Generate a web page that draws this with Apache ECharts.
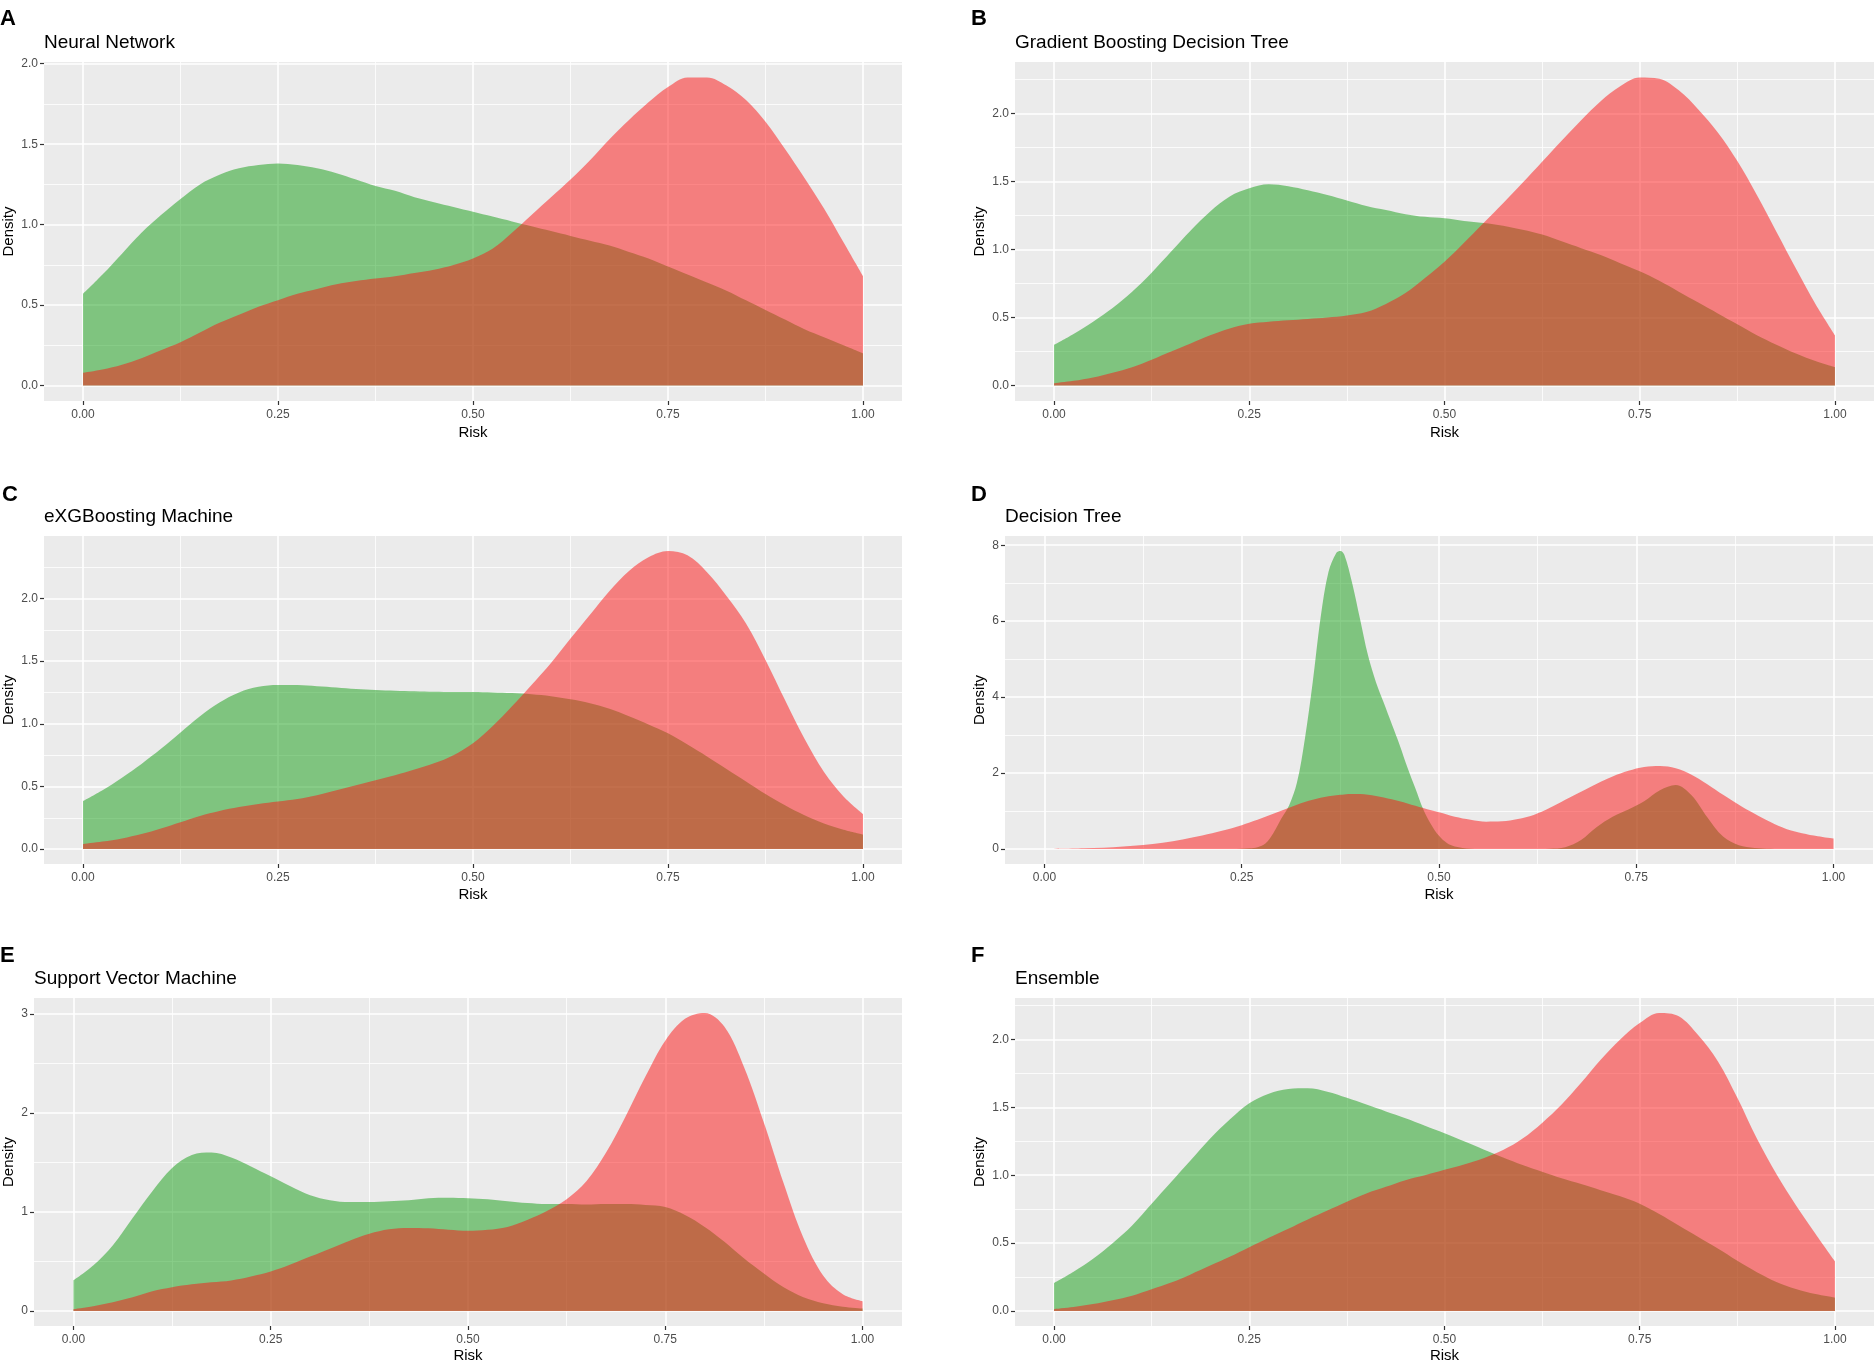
<!DOCTYPE html>
<html>
<head>
<meta charset="utf-8">
<title>Risk density by model</title>
<script src="https://cdn.jsdelivr.net/npm/echarts@6/dist/echarts.min.js"></script>
<style>
  html, body { margin: 0; padding: 0; background: #fff; }
  #box { width: 1874px; height: 1361px; }
</style>
</head>
<body>
<div id="box"></div>
<script>
// x grid shared by panels A, B, C, E, F
var risk = [0, 0.025, 0.05, 0.075, 0.1, 0.125, 0.15, 0.175, 0.2, 0.225, 0.25, 0.275, 0.3, 0.325, 0.35, 0.375, 0.4, 0.425, 0.45, 0.475, 0.5,
  0.525, 0.55, 0.575, 0.6, 0.625, 0.65, 0.675, 0.7, 0.725, 0.75, 0.775, 0.8, 0.825, 0.85, 0.875, 0.9, 0.925, 0.95, 0.975, 1]

// finer grid for the decision tree panel (sharp peak)
var riskDT = [0, 0.05, 0.1, 0.15, 0.2, 0.225, 0.25, 0.26, 0.27, 0.28, 0.29, 0.3, 0.31, 0.32, 0.33, 0.34, 0.35, 0.36, 0.37, 0.375,
  0.38, 0.39, 0.4, 0.41, 0.42, 0.43, 0.44, 0.45, 0.46, 0.47, 0.48, 0.49, 0.5, 0.51, 0.52, 0.54, 0.56, 0.58, 0.6, 0.62, 0.64,
  0.66, 0.68, 0.7, 0.72, 0.74, 0.76, 0.78, 0.8, 0.82, 0.84, 0.86, 0.88, 0.9, 0.92, 0.94, 0.96, 0.98, 1]

var nnGreen = [0.57, 0.69, 0.82, 0.95, 1.06, 1.16, 1.25, 1.31, 1.35, 1.37, 1.38, 1.37, 1.35, 1.32, 1.28, 1.24, 1.21, 1.17, 1.14, 1.11, 1.08,
  1.05, 1.02, 0.99, 0.96, 0.93, 0.90, 0.87, 0.83, 0.79, 0.74, 0.69, 0.64, 0.59, 0.53, 0.47, 0.41, 0.35, 0.30, 0.25, 0.20]
var nnRed = [0.08, 0.10, 0.13, 0.17, 0.22, 0.27, 0.33, 0.39, 0.44, 0.49, 0.53, 0.57, 0.60, 0.63, 0.65, 0.665, 0.68, 0.70, 0.72, 0.75, 0.79,
  0.85, 0.95, 1.06, 1.17, 1.28, 1.40, 1.53, 1.65, 1.76, 1.855, 1.915, 1.915, 1.865, 1.775, 1.64, 1.47, 1.29, 1.10, 0.89, 0.68]

var gbdtGreen = [0.30, 0.38, 0.47, 0.57, 0.69, 0.83, 0.985, 1.14, 1.28, 1.39, 1.45, 1.48, 1.465, 1.435, 1.40, 1.36, 1.32, 1.29, 1.26, 1.24, 1.23,
  1.21, 1.195, 1.175, 1.145, 1.11, 1.06, 1.01, 0.96, 0.90, 0.84, 0.77, 0.69, 0.61, 0.53, 0.45, 0.37, 0.30, 0.235, 0.18, 0.135]
var gbdtRed = [0.017, 0.035, 0.06, 0.095, 0.135, 0.19, 0.25, 0.31, 0.37, 0.42, 0.455, 0.47, 0.48, 0.49, 0.50, 0.515, 0.54, 0.60, 0.68, 0.79, 0.91,
  1.05, 1.195, 1.34, 1.49, 1.645, 1.80, 1.95, 2.09, 2.20, 2.265, 2.255, 2.17, 2.03, 1.86, 1.65, 1.40, 1.13, 0.86, 0.60, 0.37]

var xgbGreen = [0.384, 0.47, 0.57, 0.68, 0.80, 0.93, 1.06, 1.17, 1.25, 1.295, 1.31, 1.31, 1.30, 1.29, 1.277, 1.27, 1.264, 1.26, 1.256, 1.254, 1.253,
  1.25, 1.245, 1.235, 1.22, 1.195, 1.165, 1.12, 1.06, 0.995, 0.925, 0.835, 0.74, 0.64, 0.54, 0.44, 0.35, 0.27, 0.205, 0.155, 0.117]
var xgbRed = [0.04, 0.06, 0.085, 0.12, 0.165, 0.215, 0.265, 0.305, 0.335, 0.36, 0.38, 0.40, 0.43, 0.47, 0.51, 0.55, 0.59, 0.635, 0.685, 0.75, 0.845,
  0.98, 1.14, 1.31, 1.485, 1.68, 1.87, 2.06, 2.22, 2.33, 2.38, 2.345, 2.21, 2.02, 1.80, 1.51, 1.19, 0.88, 0.615, 0.42, 0.28]

var dtGreen = [0, 0, 0, 0, 0, 0, 0.01, 0.02, 0.05, 0.15, 0.42, 0.8, 1.15, 1.75, 2.9, 4.4, 6.1, 7.3, 7.8, 7.85,
  7.75, 7.0, 6.05, 5.1, 4.4, 3.85, 3.3, 2.75, 2.15, 1.6, 1.05, 0.65, 0.35, 0.16, 0.07, 0.01, 0, 0, 0, 0, 0.01,
  0.05, 0.24, 0.58, 0.85, 1.04, 1.26, 1.55, 1.69, 1.42, 0.84, 0.33, 0.1, 0.03, 0.01, 0, 0, 0, 0]
var dtRed = [0, 0.02, 0.07, 0.17, 0.36, 0.48, 0.63, 0.70, 0.77, 0.85, 0.93, 1.01, 1.09, 1.17, 1.24, 1.30, 1.35, 1.39, 1.42, 1.43,
  1.44, 1.45, 1.45, 1.43, 1.40, 1.36, 1.31, 1.26, 1.20, 1.14, 1.08, 1.02, 0.97, 0.91, 0.85, 0.77, 0.72, 0.73, 0.79, 0.90, 1.08,
  1.30, 1.51, 1.72, 1.91, 2.06, 2.16, 2.19, 2.13, 1.96, 1.71, 1.43, 1.17, 0.93, 0.71, 0.53, 0.42, 0.34, 0.28]

var svmGreen = [0.31, 0.46, 0.665, 0.94, 1.21, 1.445, 1.575, 1.60, 1.55, 1.46, 1.36, 1.26, 1.17, 1.12, 1.10, 1.10, 1.11, 1.12, 1.14, 1.145, 1.14,
  1.13, 1.11, 1.09, 1.08, 1.08, 1.075, 1.08, 1.08, 1.07, 1.05, 0.97, 0.85, 0.70, 0.53, 0.38, 0.24, 0.14, 0.08, 0.045, 0.027]
var svmRed = [0.02, 0.05, 0.09, 0.14, 0.20, 0.24, 0.27, 0.29, 0.31, 0.35, 0.40, 0.47, 0.55, 0.63, 0.71, 0.78, 0.825, 0.84, 0.835, 0.82, 0.81,
  0.82, 0.85, 0.92, 1.01, 1.13, 1.31, 1.60, 1.97, 2.37, 2.73, 2.95, 3.01, 2.87, 2.46, 1.90, 1.29, 0.74, 0.36, 0.17, 0.10]

var ensGreen = [0.207, 0.29, 0.385, 0.50, 0.63, 0.79, 0.95, 1.11, 1.27, 1.41, 1.53, 1.60, 1.635, 1.64, 1.615, 1.57, 1.52, 1.47, 1.42, 1.365, 1.31,
  1.25, 1.19, 1.13, 1.075, 1.025, 0.977, 0.935, 0.89, 0.845, 0.79, 0.715, 0.63, 0.545, 0.46, 0.37, 0.286, 0.215, 0.163, 0.125, 0.099]
var ensRed = [0.015, 0.03, 0.052, 0.08, 0.113, 0.16, 0.21, 0.27, 0.335, 0.40, 0.47, 0.54, 0.607, 0.675, 0.74, 0.805, 0.866, 0.915, 0.964, 1.00, 1.04,
  1.08, 1.125, 1.185, 1.27, 1.385, 1.52, 1.68, 1.85, 2.00, 2.12, 2.195, 2.17, 2.03, 1.84, 1.57, 1.27, 1.01, 0.78, 0.57, 0.367]

// tick positions
var xTicks = [0, 0.25, 0.5, 0.75, 1]
var xMinor = [0.125, 0.375, 0.625, 0.875]
var yTicksHalf = [0, 0.5, 1, 1.5, 2, 2.5]
var yMinorHalf = [0.25, 0.75, 1.25, 1.75, 2.25]
var yTicksDT = [0, 2, 4, 6, 8]
var yMinorDT = [1, 3, 5, 7]
var yTicksSVM = [0, 1, 2, 3]
var yMinorSVM = [0.5, 1.5, 2.5]

var font = '"Liberation Sans", Arial, sans-serif'
var greenFill = 'rgba(20, 158, 20, 0.5)'
var redFill = 'rgba(254, 18, 18, 0.5)'

// panel layout (pixels)
var panels = [
  { letter: 'A', title: 'Neural Network', xs: risk, green: nnGreen, red: nnRed,
    left: 44, top: 62, width: 858, height: 339, yMajor: yTicksHalf, yMinor: yMinorHalf, digits: 1,
    nameX: 8, riskGap: 24.5, letterX: 0, letterY: 8 },
  { letter: 'B', title: 'Gradient Boosting Decision Tree', xs: risk, green: gbdtGreen, red: gbdtRed,
    left: 1015, top: 62, width: 859, height: 339, yMajor: yTicksHalf, yMinor: yMinorHalf, digits: 1,
    nameX: 979, riskGap: 24.5, letterX: 971, letterY: 8 },
  { letter: 'C', title: 'eXGBoosting Machine', xs: risk, green: xgbGreen, red: xgbRed,
    left: 44, top: 536, width: 858, height: 328, yMajor: yTicksHalf, yMinor: yMinorHalf, digits: 1,
    nameX: 8, riskGap: 23.5, letterX: 2, letterY: 484 },
  { letter: 'D', title: 'Decision Tree', xs: riskDT, green: dtGreen, red: dtRed,
    left: 1005, top: 536, width: 868, height: 328, yMajor: yTicksDT, yMinor: yMinorDT, digits: 0,
    nameX: 979, riskGap: 23.5, letterX: 971, letterY: 484 },
  { letter: 'E', title: 'Support Vector Machine', xs: risk, green: svmGreen, red: svmRed,
    left: 34, top: 998, width: 868, height: 328, yMajor: yTicksSVM, yMinor: yMinorSVM, digits: 0,
    nameX: 8, riskGap: 22, letterX: 0, letterY: 945 },
  { letter: 'F', title: 'Ensemble', xs: risk, green: ensGreen, red: ensRed,
    left: 1015, top: 998, width: 859, height: 328, yMajor: yTicksHalf, yMinor: yMinorHalf, digits: 1,
    nameX: 979, riskGap: 22, letterX: 971, letterY: 945 }
]

function pairs(xs, ys) {
  return xs.map(function (x, i) { return [x, ys[i]] })
}

var grids = [], xAxes = [], yAxes = [], series = [], titles = []

panels.forEach(function (p, i) {
  // ggplot style 5% expansion of the density range
  var peak = Math.max.apply(null, p.green.concat(p.red))
  var yMin = -peak * 0.05
  var yMax = peak * 1.05

  grids.push({
    left: p.left, top: p.top, width: p.width, height: p.height,
    show: true, backgroundColor: '#EBEBEB', borderWidth: 0,
    containLabel: false, outerBoundsMode: 'none'
  })

  xAxes.push({
    type: 'value', gridIndex: i, min: -0.05, max: 1.05, position: 'bottom',
    axisLine: { show: false, onZero: false },
    axisTick: { show: true, customValues: xTicks, length: 4, lineStyle: { color: '#333333', width: 1.2 } },
    axisLabel: { customValues: xTicks, formatter: function (v) { return v.toFixed(2) },
      color: '#4D4D4D', fontSize: 12, margin: 8, fontFamily: font },
    splitLine: { show: true, lineStyle: { color: '#FFFFFF', width: 1.6 } },
    name: 'Risk', nameLocation: 'middle', nameGap: p.riskGap,
    nameTextStyle: { color: '#000', fontSize: 15, fontFamily: font }
  })
  xAxes.push({
    type: 'value', gridIndex: i, min: -0.05, max: 1.05, position: 'bottom',
    axisLine: { show: false, onZero: false },
    axisTick: { show: false, customValues: xMinor },
    axisLabel: { show: false },
    splitLine: { show: true, lineStyle: { color: '#FFFFFF', width: 0.8 } }
  })

  yAxes.push({
    type: 'value', gridIndex: i, min: yMin, max: yMax, position: 'left',
    axisLine: { show: false, onZero: false },
    axisTick: { show: true, customValues: p.yMajor, length: 4, lineStyle: { color: '#333333', width: 1.2 } },
    axisLabel: { customValues: p.yMajor, formatter: (function (d) { return function (v) { return v.toFixed(d) } })(p.digits),
      color: '#4D4D4D', fontSize: 12, margin: 6, fontFamily: font },
    splitLine: { show: true, lineStyle: { color: '#FFFFFF', width: 1.6 } },
    name: 'Density', nameLocation: 'middle', nameRotate: 90, nameGap: p.left - p.nameX - 8,
    nameTextStyle: { color: '#000', fontSize: 15, fontFamily: font }
  })
  yAxes.push({
    type: 'value', gridIndex: i, min: yMin, max: yMax, position: 'left',
    axisLine: { show: false, onZero: false },
    axisTick: { show: false, customValues: p.yMinor },
    axisLabel: { show: false },
    splitLine: { show: true, lineStyle: { color: '#FFFFFF', width: 0.8 } }
  })

  var fills = [[p.green, greenFill], [p.red, redFill]]
  fills.forEach(function (f) {
    series.push({
      type: 'line', xAxisIndex: 2 * i, yAxisIndex: 2 * i,
      data: pairs(p.xs, f[0]),
      smooth: 0.35, symbol: 'none', silent: true,
      lineStyle: { width: 0, opacity: 0 },
      areaStyle: { color: f[1], opacity: 1 }
    })
  })

  titles.push({
    text: p.letter, left: p.letterX, top: p.letterY, padding: 0,
    textStyle: { fontSize: 22, fontWeight: 'bold', color: '#000', fontFamily: font }
  })
  titles.push({
    text: p.title, left: p.left, top: p.top - 29, padding: 0,
    textStyle: { fontSize: 19, fontWeight: 'normal', color: '#000', fontFamily: font }
  })
})

var chart = echarts.init(document.getElementById('box'), null, { renderer: 'canvas' })

chart.setOption({
  animation: false,
  backgroundColor: '#FFFFFF',
  title: titles,
  grid: grids,
  xAxis: xAxes,
  yAxis: yAxes,
  series: series
})
</script>
</body>
</html>
